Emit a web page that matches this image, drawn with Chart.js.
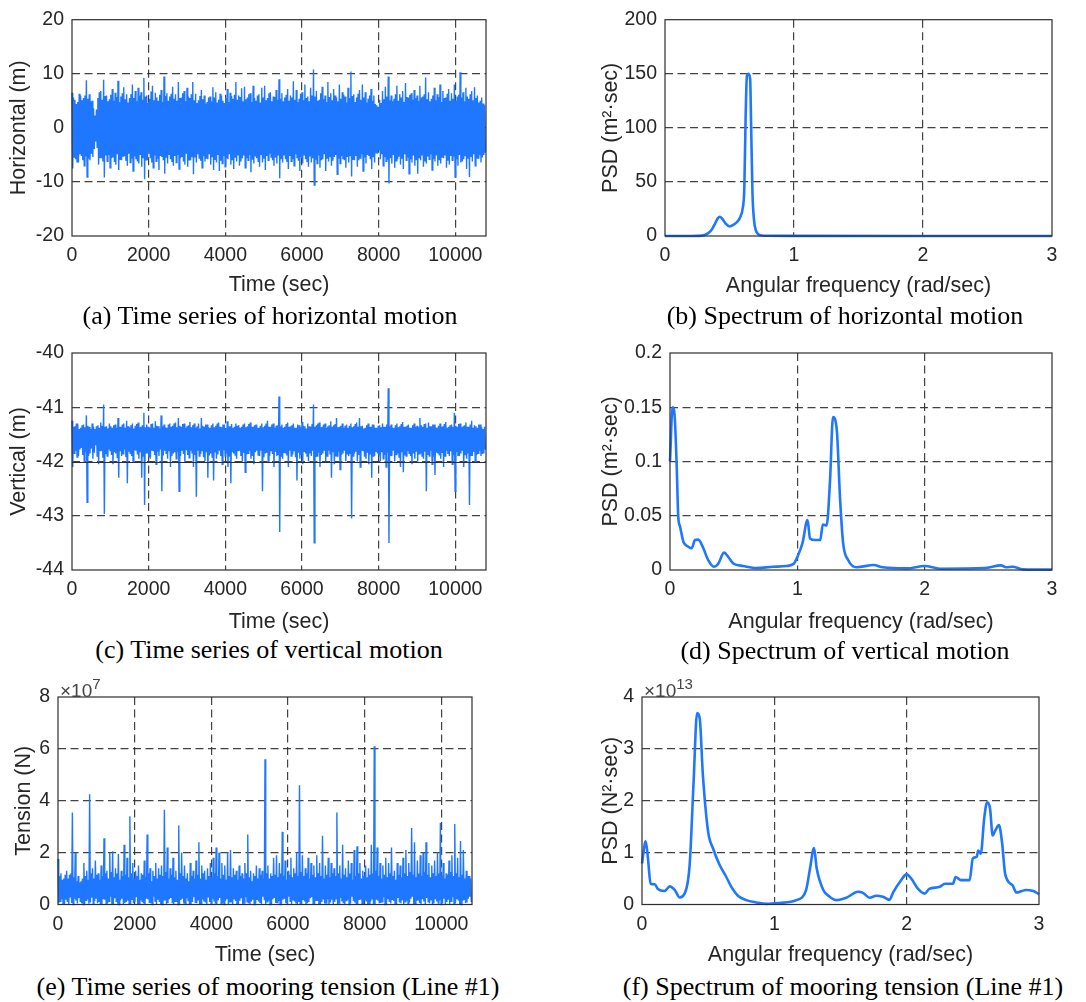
<!DOCTYPE html>
<html>
<head>
<meta charset="utf-8">
<script src="https://cdn.jsdelivr.net/npm/chart.js@4.4.0/dist/chart.umd.min.js"></script>
<style>
  body { margin: 0; background: #fff; }
  #fig { position: relative; width: 1086px; height: 1002px; overflow: hidden; }
  canvas { position: absolute; }
  .cap { position: absolute; width: 600px; text-align: center; font-family: "Liberation Serif", "Times New Roman", serif;
         font-size: 26px; line-height: 30px; color: #000; white-space: nowrap; }
  .exp { position: absolute; font-family: "Liberation Sans", Arial, sans-serif; font-size: 19px; line-height: 20px; color: #444; }
  .exp sup { font-size: 15px; vertical-align: 8px; }
</style>
</head>
<body>
<div id="fig">
  <canvas id="ca" width="540" height="305" style="left:0;top:0"></canvas>
  <canvas id="cb" width="546" height="305" style="left:540px;top:0"></canvas>
  <canvas id="cc" width="540" height="305" style="left:0;top:330px"></canvas>
  <canvas id="cd" width="546" height="305" style="left:540px;top:330px"></canvas>
  <canvas id="ce" width="540" height="305" style="left:0;top:665px"></canvas>
  <canvas id="cf" width="546" height="305" style="left:540px;top:665px"></canvas>

  <div class="cap" style="left:-30px;top:301px">(a) Time series of horizontal motion</div>
  <div class="cap" style="left:545px;top:301px">(b) Spectrum of horizontal motion</div>
  <div class="cap" style="left:-31px;top:635px">(c) Time series of vertical motion</div>
  <div class="cap" style="left:545px;top:636px">(d) Spectrum of vertical motion</div>
  <div class="cap" style="left:-32px;top:972px">(e) Time series of mooring tension (Line #1)</div>
  <div class="cap" style="left:543px;top:972px">(f) Spectrum of mooring tension (Line #1)</div>

  <div class="exp" style="left:60px;top:674px">&times;10<sup>7</sup></div>
  <div class="exp" style="left:644px;top:674px">&times;10<sup>13</sup></div>
</div>
<script>
// time records: one crest and one trough per sample step (sec)
const timeStep = 37.5;
const timeTicks = [0, 2000, 4000, 6000, 8000, 10000];
const freqTicks = [0, 1, 2, 3];

// (a) horizontal motion (m)
const horizTicks = [-20, -10, 0, 10, 20];
const horizUpper = [
  6.5,5.6, 5.2,4.4, 4.8,6.3, 6.0,5.1, 5.5,6.0, 8.8,5.4, 6.2,4.9, 5.0,3.6, 2.3,3.4, 5.5,6.6, 6.8,5.2, 8.9,5.9,
  6.0,4.9, 5.3,6.1, 7.2,5.0, 6.5,5.7, 8.7,4.8, 5.8,6.4, 7.5,5.3, 6.2,4.7, 5.5,6.2, 8.0,5.5, 6.8,4.9, 7.4,6.0,
  6.6,5.2, 9.2,5.8, 6.0,4.6, 5.4,6.7, 7.8,5.1, 6.5,5.6, 5.0,6.1, 7.0,4.8, 9.5,5.9, 6.4,5.0, 5.8,6.3, 7.6,5.4,
  6.2,5.0, 8.5,5.5, 5.6,6.4, 6.8,4.9, 7.4,5.8, 5.5,6.2, 8.5,5.1, 6.3,4.6, 5.1,5.9, 7.0,5.3, 6.0,4.5, 4.8,5.6,
  5.8,4.9, 7.5,5.6, 6.6,4.7, 5.2,6.3, 6.0,5.0, 4.6,5.5, 7.2,4.8, 6.5,5.9, 5.4,6.1, 8.5,5.2, 6.0,5.7, 7.3,4.9,
  7.6,5.3, 5.6,6.2, 6.4,4.8, 7.8,5.5, 5.0,6.0, 6.2,4.7, 7.4,5.6, 7.8,5.1, 5.5,6.4, 6.6,4.9, 5.8,5.7, 7.0,5.2,
  9.0,5.4, 6.4,4.9, 5.6,6.1, 7.2,5.0, 6.0,5.6, 8.6,5.2, 7.0,4.8, 5.4,6.3, 6.6,5.1, 8.0,5.5, 5.8,4.9, 7.4,6.0,
  10.8,5.8, 6.8,5.0, 5.2,6.4, 7.6,5.3, 6.0,4.8, 8.5,5.7, 6.4,5.1, 7.2,6.0, 5.6,4.9, 8.0,5.4, 6.6,6.1, 5.8,4.7,
  7.4,5.5, 10.4,5.9, 6.2,4.8, 5.6,6.3, 7.0,5.2, 8.0,5.6, 6.6,4.7, 5.4,6.0, 7.2,5.0, 6.0,4.4, 4.2,3.9, 5.2,4.6,
  6.8,5.3, 7.6,5.8, 9.5,5.1, 6.0,4.9, 5.4,6.2, 7.8,5.0, 6.2,5.6, 6.8,4.8, 8.3,5.7, 5.6,6.1, 6.4,5.2, 7.0,5.5,
  6.0,5.0, 7.8,5.6, 5.8,6.2, 9.3,5.3, 6.6,4.9, 5.4,6.0, 7.4,5.1, 6.2,5.7, 8.0,4.8, 6.8,5.5, 5.6,6.3, 7.2,5.0,
  6.4,5.4, 8.0,5.0, 5.8,6.1, 10.3,5.6, 6.6,4.9, 7.4,5.8, 5.4,6.2, 6.8,5.1, 7.5,5.5, 6.0,4.7, 5.0,5.6, 4.5,4.2
];
const horizLower = [
  -7.5,-5.4, -5.8,-6.3, -6.4,-4.9, -5.2,-6.0, -7.0,-5.3, -9.1,-5.7, -6.0,-4.8, -5.4,-3.9, -2.5,-3.6, -6.8,-5.5, -5.6,-6.2, -9.2,-5.1,
  -6.2,-5.0, -7.4,-5.6, -5.5,-6.3, -6.8,-4.9, -7.8,-5.8, -6.0,-5.2, -5.2,-6.1, -7.0,-4.8, -6.4,-5.7, -8.0,-5.3, -5.8,-6.2, -6.6,-5.0,
  -7.2,-5.5, -9.5,-5.9, -6.0,-4.8, -5.6,-6.4, -7.4,-5.1, -6.2,-5.7, -7.8,-5.2, -5.4,-6.0, -8.5,-5.4, -6.6,-4.9, -5.8,-6.3, -7.0,-5.2,
  -6.4,-5.0, -7.6,-5.6, -5.4,-6.2, -6.8,-4.8, -7.2,-5.9, -6.0,-5.3, -8.6,-5.5, -6.4,-4.9, -5.6,-6.1, -7.4,-5.2, -6.2,-5.7, -5.8,-4.9,
  -6.8,-5.3, -7.8,-5.8, -6.4,-5.0, -8.0,-6.1, -6.6,-5.2, -7.2,-5.6, -5.8,-4.9, -6.8,-6.0, -7.6,-5.4, -6.2,-5.0, -7.0,-6.2, -5.6,-5.1,
  -7.4,-5.6, -6.0,-5.0, -8.2,-5.9, -6.6,-5.3, -5.6,-6.2, -7.2,-4.9, -6.4,-5.7, -7.8,-5.2, -6.0,-4.8, -5.4,-6.0, -7.0,-5.5, -6.6,-5.1,
  -9.3,-5.7, -6.4,-5.0, -5.8,-6.3, -7.6,-5.2, -6.2,-5.8, -7.0,-4.9, -5.6,-6.1, -8.0,-5.4, -6.6,-5.0, -5.8,-6.2, -7.2,-5.3, -6.4,-5.6,
  -10.6,-5.9, -6.6,-5.1, -7.4,-6.0, -5.8,-4.9, -8.0,-5.6, -6.2,-5.3, -7.0,-6.1, -5.4,-5.0, -8.6,-5.7, -6.6,-5.2, -5.8,-6.0, -7.4,-5.4,
  -6.4,-5.1, -9.0,-5.8, -6.0,-5.2, -7.2,-6.0, -5.6,-4.9, -8.0,-5.5, -6.6,-5.0, -5.2,-5.8, -7.6,-5.3, -6.4,-4.6, -4.8,-4.2, -5.8,-4.9,
  -7.0,-5.4, -6.2,-5.9, -10.3,-5.6, -6.6,-5.0, -7.4,-6.1, -5.8,-5.2, -6.8,-5.7, -7.6,-4.9, -6.0,-5.5, -8.5,-5.8, -6.4,-5.1, -7.0,-6.0,
  -8.5,-5.5, -6.0,-5.0, -7.2,-6.2, -6.6,-5.3, -5.8,-4.9, -7.8,-5.8, -6.2,-5.1, -7.0,-6.0, -6.6,-5.4, -5.6,-5.0, -7.4,-6.1, -6.8,-5.2,
  -6.0,-5.3, -9.1,-5.8, -7.0,-5.0, -6.4,-6.2, -5.8,-5.1, -7.6,-5.6, -9.1,-5.4, -6.2,-4.9, -7.0,-5.7, -5.6,-5.0, -6.4,-5.5, -5.0,-4.6
];

// (c) vertical motion (m)
const vertTicks = [-44, -43, -42, -41, -40];
const vertUpper = [
  -41.25,-41.36, -41.35,-41.3, -41.3,-41.4, -41.38,-41.33, -41.32,-41.37, -41.15,-41.34, -41.36,-41.4, -41.3,-41.36, -41.4,-41.35, -41.33,-41.38, -41.28,-41.34, -40.95,-41.36,
  -41.35,-41.39, -41.3,-41.35, -41.38,-41.33, -41.32,-41.38, -41.2,-41.36, -41.36,-41.32, -41.3,-41.38, -41.25,-41.35, -41.37,-41.33, -41.3,-41.39, -41.34,-41.31, -41.28,-41.37,
  -41.36,-41.33, -41.1,-41.37, -41.32,-41.36, -41.38,-41.31, -41.3,-41.38, -41.26,-41.34, -41.35,-41.39, -41.15,-41.35, -41.32,-41.37, -41.38,-41.32, -41.3,-41.36, -41.34,-41.3,
  -41.28,-41.37, -41.2,-41.34, -41.36,-41.31, -41.3,-41.38, -41.35,-41.33, -41.27,-41.37, -41.33,-41.3, -41.38,-41.35, -41.3,-41.39, -41.2,-41.34, -41.36,-41.32, -41.32,-41.37,
  -41.38,-41.33, -41.3,-41.37, -41.34,-41.3, -41.28,-41.36, -41.37,-41.32, -41.32,-41.39, -41.26,-41.35, -41.35,-41.31, -41.38,-41.36, -41.3,-41.34, -41.33,-41.38, -41.36,-41.32,
  -41.3,-41.37, -41.35,-41.31, -41.28,-41.36, -41.36,-41.33, -41.32,-41.38, -41.38,-41.34, -41.3,-41.37, -41.34,-41.3, -41.25,-41.36, -41.36,-41.32, -41.3,-41.38, -41.34,-41.33,
  -40.8,-41.35, -41.32,-41.38, -41.36,-41.31, -41.28,-41.36, -41.35,-41.33, -41.3,-41.38, -41.38,-41.32, -41.33,-41.37, -41.27,-41.34, -41.35,-41.39, -41.3,-41.35, -41.36,-41.31,
  -40.95,-41.36, -41.33,-41.3, -41.28,-41.37, -41.36,-41.32, -41.3,-41.38, -41.35,-41.33, -41.26,-41.36, -41.33,-41.31, -41.2,-41.37, -41.36,-41.34, -41.3,-41.38, -41.34,-41.32,
  -41.38,-41.34, -41.3,-41.37, -41.35,-41.31, -41.28,-41.36, -41.2,-41.35, -41.34,-41.39, -41.38,-41.33, -41.3,-41.36, -41.36,-41.32, -41.32,-41.38, -41.38,-41.34, -41.33,-41.37,
  -41.3,-41.36, -41.36,-41.32, -40.65,-41.35, -41.32,-41.38, -41.38,-41.33, -41.3,-41.37, -41.35,-41.31, -41.27,-41.36, -41.36,-41.34, -41.32,-41.38, -41.38,-41.33, -41.3,-41.36,
  -41.34,-41.37, -41.2,-41.33, -41.36,-41.31, -41.3,-41.38, -41.28,-41.35, -41.35,-41.32, -41.32,-41.37, -41.38,-41.34, -41.3,-41.36, -41.35,-41.31, -41.27,-41.38, -41.36,-41.33,
  -41.32,-41.36, -41.1,-41.34, -41.36,-41.31, -41.3,-41.37, -41.35,-41.33, -41.28,-41.36, -41.36,-41.32, -41.25,-41.38, -41.33,-41.35, -41.38,-41.32, -41.32,-41.37, -41.4,-41.36
];
const vertLower = [
  -42.1,-41.85, -41.8,-41.92, -41.9,-41.78, -41.75,-41.88, -42.0,-41.82, -42.75,-41.9, -41.85,-41.76, -41.95,-41.84, -41.7,-41.9, -42.05,-41.8, -41.8,-41.93, -42.97,-41.86,
  -41.9,-41.78, -41.8,-41.88, -42.05,-41.83, -41.85,-41.94, -42.3,-41.8, -41.9,-41.86, -41.78,-41.92, -42.4,-41.82, -41.85,-41.9, -42.0,-41.79, -41.8,-41.87, -41.95,-41.83,
  -42.3,-41.9, -42.8,-41.84, -41.85,-41.92, -41.95,-41.8, -41.8,-41.88, -42.05,-41.82, -41.9,-41.78, -42.55,-41.89, -41.8,-41.85, -41.95,-41.8, -42.1,-41.9, -41.85,-41.83,
  -41.95,-41.82, -42.55,-41.9, -41.8,-41.86, -42.0,-41.79, -41.88,-41.93, -41.8,-41.84, -42.1,-41.88, -42.65,-41.8, -41.9,-41.86, -41.8,-41.92, -42.0,-41.83, -42.3,-41.89,
  -41.85,-41.92, -42.35,-41.82, -41.95,-41.87, -41.8,-41.9, -42.05,-41.79, -41.9,-41.85, -42.1,-41.91, -42.4,-41.83, -41.85,-41.88, -41.95,-41.8, -41.8,-41.9, -42.0,-41.84,
  -42.2,-41.87, -41.85,-41.8, -41.95,-41.9, -42.05,-41.83, -41.8,-41.88, -41.9,-41.79, -42.55,-41.92, -41.85,-41.84, -42.0,-41.9, -41.8,-41.86, -42.1,-41.82, -41.9,-41.88,
  -43.3,-41.9, -41.95,-41.83, -41.85,-41.89, -42.1,-41.8, -41.9,-41.87, -41.8,-41.92, -42.35,-41.84, -41.95,-41.88, -42.05,-41.81, -41.85,-41.9, -42.0,-41.85, -41.9,-41.8,
  -43.5,-41.92, -41.9,-41.84, -42.1,-41.88, -41.85,-41.8, -42.0,-41.9, -41.8,-41.86, -42.3,-41.83, -42.05,-41.91, -41.9,-41.82, -42.15,-41.88, -41.85,-41.8, -42.0,-41.87,
  -41.9,-41.85, -43.05,-41.9, -41.85,-41.82, -42.0,-41.88, -42.1,-41.8, -41.8,-41.91, -41.95,-41.84, -42.05,-41.87, -42.3,-41.9, -41.9,-41.81, -41.85,-41.89, -42.0,-41.83,
  -41.95,-41.88, -42.1,-41.84, -43.5,-41.9, -41.9,-41.8, -42.0,-41.87, -41.85,-41.92, -42.1,-41.83, -42.2,-41.89, -41.9,-41.81, -41.85,-41.9, -42.05,-41.85, -41.95,-41.82,
  -42.0,-41.86, -41.85,-41.9, -41.95,-41.82, -42.55,-41.88, -41.9,-41.8, -42.05,-41.91, -42.25,-41.84, -41.85,-41.89, -41.95,-41.83, -42.1,-41.9, -41.8,-41.86, -41.9,-41.81,
  -42.05,-41.88, -42.55,-41.83, -41.9,-41.9, -41.85,-41.8, -42.1,-41.87, -41.95,-41.84, -42.8,-41.9, -41.9,-41.82, -42.0,-41.88, -41.85,-41.8, -41.9,-41.86, -41.85,-41.78
];

// (e) mooring tension, in units of 1e7 N
const tensionTicks = [0, 2, 4, 6, 8];
const tensionUpper = [
  1.75,1.1, 1.2,0.95, 1.0,1.15, 1.3,1.0, 1.15,1.2, 3.55,1.05, 2.0,0.9, 1.1,0.85, 0.9,1.0, 1.6,1.1, 1.3,0.95, 4.25,1.2,
  1.4,1.0, 1.7,1.15, 1.2,0.95, 1.5,1.1, 2.55,1.2, 1.3,1.0, 2.0,1.25, 2.05,1.05, 1.4,1.2, 1.95,0.95, 1.3,1.1, 2.3,1.15,
  1.8,1.05, 3.4,1.2, 1.6,1.0, 1.3,1.1, 1.5,0.95, 1.2,1.15, 1.7,1.05, 2.7,1.2, 1.4,0.9, 1.3,1.1, 1.6,1.0, 1.4,1.15,
  1.5,1.1, 3.65,1.25, 2.2,1.0, 1.4,1.15, 1.8,1.05, 1.3,0.95, 3.05,1.2, 2.0,1.1, 1.5,1.0, 1.2,0.9, 1.6,1.1, 1.3,1.0,
  1.7,1.15, 2.4,1.0, 1.5,1.2, 1.3,0.95, 1.4,1.1, 1.6,1.05, 1.8,1.2, 2.2,1.1, 2.0,1.0, 1.6,1.15, 1.5,0.95, 2.0,1.1,
  2.1,1.05, 1.4,1.15, 1.3,0.95, 1.5,1.1, 1.2,1.0, 1.6,1.2, 2.7,1.05, 1.3,0.9, 1.2,1.1, 1.5,1.0, 1.4,1.15, 1.3,1.0,
  5.6,1.2, 1.5,1.0, 1.2,1.1, 1.8,1.15, 1.9,1.05, 1.6,1.2, 2.8,1.1, 1.7,0.95, 1.3,1.15, 1.8,1.05, 1.4,1.2, 2.0,1.1,
  4.6,1.25, 1.9,1.1, 1.4,1.2, 1.8,1.0, 1.6,1.15, 1.5,1.05, 1.9,1.2, 1.6,1.1, 2.65,1.0, 1.5,1.15, 1.8,1.05, 1.6,1.2,
  1.4,1.1, 3.55,1.2, 1.5,1.0, 2.3,1.15, 1.4,1.05, 1.7,1.2, 1.6,0.95, 2.1,1.1, 2.25,1.2, 1.6,1.0, 1.3,1.1, 1.5,1.05,
  1.4,1.15, 2.3,1.2, 6.1,1.3, 2.2,1.1, 1.6,1.0, 1.5,1.15, 1.8,1.05, 1.6,1.2, 2.2,1.1, 1.3,0.95, 1.6,1.15, 1.5,1.05,
  1.8,1.2, 2.1,1.1, 1.6,1.25, 2.95,1.15, 2.4,1.05, 1.7,1.2, 1.9,1.1, 2.0,1.25, 2.4,1.15, 1.6,1.05, 1.5,1.2, 1.7,1.1,
  2.0,1.2, 3.15,1.1, 1.6,1.0, 1.2,1.15, 1.7,1.25, 1.9,1.1, 3.1,1.2, 1.8,1.05, 2.45,1.15, 2.1,1.0, 1.3,1.1, 1.1,1.0
];
const tensionLower = [
  0.05,0.12, 0.2,0.03, 0.02,0.18, 0.1,0.0, 0.3,0.06, 0.0,0.22, 0.15,0.04, 0.25,0.1, 0.05,0.0, 0.0,0.16, 0.2,0.03, 0.08,0.26,
  0.02,0.14, 0.25,0.05, 0.1,0.0, 0.0,0.2, 0.18,0.04, 0.05,0.12, 0.3,0.0, 0.02,0.24, 0.12,0.03, 0.0,0.16, 0.22,0.02, 0.06,0.1,
  0.15,0.03, 0.0,0.2, 0.05,0.1, 0.28,0.0, 0.02,0.16, 0.12,0.04, 0.0,0.22, 0.2,0.06, 0.05,0.0, 0.3,0.12, 0.02,0.18, 0.1,0.02,
  0.0,0.14, 0.18,0.02, 0.06,0.2, 0.25,0.05, 0.02,0.12, 0.1,0.0, 0.0,0.17, 0.22,0.04, 0.05,0.24, 0.15,0.0, 0.02,0.1, 0.28,0.06,
  0.05,0.18, 0.0,0.04, 0.2,0.12, 0.08,0.0, 0.3,0.1, 0.02,0.22, 0.12,0.03, 0.0,0.16, 0.25,0.05, 0.05,0.0, 0.15,0.2, 0.0,0.08,
  0.1,0.02, 0.22,0.14, 0.02,0.0, 0.15,0.24, 0.0,0.06, 0.28,0.1, 0.05,0.0, 0.12,0.18, 0.0,0.04, 0.2,0.12, 0.06,0.0, 0.3,0.16,
  0.02,0.1, 0.15,0.0, 0.0,0.2, 0.25,0.06, 0.08,0.14, 0.0,0.03, 0.18,0.22, 0.05,0.0, 0.3,0.12, 0.02,0.18, 0.12,0.04, 0.0,0.1,
  0.05,0.0, 0.2,0.12, 0.0,0.05, 0.1,0.24, 0.28,0.02, 0.02,0.16, 0.15,0.0, 0.0,0.1, 0.22,0.04, 0.06,0.2, 0.0,0.08, 0.18,0.0,
  0.1,0.22, 0.0,0.06, 0.25,0.12, 0.05,0.0, 0.15,0.18, 0.0,0.04, 0.3,0.14, 0.08,0.0, 0.02,0.2, 0.2,0.05, 0.0,0.16, 0.12,0.02,
  0.04,0.12, 0.22,0.0, 0.0,0.18, 0.15,0.05, 0.06,0.1, 0.28,0.0, 0.0,0.2, 0.1,0.04, 0.2,0.14, 0.02,0.0, 0.25,0.08, 0.05,0.16,
  0.0,0.1, 0.15,0.03, 0.08,0.22, 0.3,0.0, 0.02,0.14, 0.18,0.06, 0.0,0.2, 0.12,0.0, 0.25,0.1, 0.05,0.18, 0.0,0.04, 0.2,0.12,
  0.06,0.16, 0.0,0.05, 0.22,0.0, 0.1,0.18, 0.02,0.12, 0.28,0.03, 0.05,0.2, 0.15,0.0, 0.0,0.14, 0.2,0.06, 0.08,0.22, 0.3,0.1
];

// (b) spectrum of horizontal motion
const psdBTicks = [0, 50, 100, 150, 200];
const freqB = [0, 0.2, 0.25, 0.3, 0.33, 0.36, 0.39, 0.41, 0.425, 0.44, 0.47, 0.5, 0.53, 0.555, 0.575, 0.59,
  0.6, 0.615, 0.625, 0.635, 0.648, 0.66, 0.668, 0.678, 0.69, 0.705, 0.72, 0.75, 0.8, 1, 2, 3];
const psdB = [0, 0, 0.1, 0.7, 2.2, 5.5, 12, 16.5, 17.8, 16.5, 11.5, 8.8, 10.2, 12.6, 15.5, 19.5,
  24, 45, 110, 148, 150, 145, 100, 40, 15, 5, 2, 0.5, 0.2, 0.1, 0.05, 0.05];

// (d) spectrum of vertical motion
const psdDTicks = [0, 0.05, 0.1, 0.15, 0.2];
const freqD = [0, 0.02, 0.037, 0.052, 0.065, 0.079, 0.105, 0.144, 0.17, 0.196, 0.222, 0.262, 0.3, 0.345,
  0.38, 0.424, 0.458, 0.497, 0.576, 0.68, 0.81, 0.916, 0.974, 1.0, 1.04, 1.08, 1.1, 1.14, 1.18, 1.2, 1.23,
  1.257, 1.28, 1.31, 1.335, 1.36, 1.4, 1.466, 1.6, 1.67, 1.86, 2.0, 2.12, 2.47, 2.6, 2.64, 2.69, 2.77, 3.0];
const psdD = [0.1, 0.15, 0.141, 0.098, 0.049, 0.04, 0.026, 0.0215, 0.02, 0.0276, 0.028, 0.02, 0.009, 0.003,
  0.006, 0.016, 0.012, 0.006, 0.0037, 0.0018, 0.003, 0.0037, 0.006, 0.012, 0.0245, 0.046, 0.029, 0.0276,
  0.0276, 0.042, 0.041, 0.083, 0.141, 0.129, 0.067, 0.0245, 0.009, 0.0025, 0.0046, 0.0025, 0.0015, 0.0037,
  0.0012, 0.0018, 0.0043, 0.0025, 0.003, 0.0006, 0.0003];

// (f) spectrum of mooring tension, in units of 1e13
const psdFTicks = [0, 1, 2, 3, 4];
const freqF = [0, 0.028, 0.045, 0.065, 0.096, 0.12, 0.17, 0.21, 0.247, 0.285, 0.322, 0.36, 0.39, 0.416,
  0.436, 0.46, 0.5, 0.537, 0.587, 0.637, 0.675, 0.725, 0.788, 0.864, 0.94, 1.04, 1.166, 1.24, 1.27, 1.3,
  1.32, 1.37, 1.418, 1.468, 1.544, 1.632, 1.67, 1.72, 1.77, 1.82, 1.87, 1.9, 1.95, 2.0, 2.035, 2.086,
  2.136, 2.17, 2.25, 2.29, 2.35, 2.37, 2.41, 2.476, 2.5, 2.53, 2.54, 2.56, 2.586, 2.608, 2.63, 2.65,
  2.665, 2.697, 2.72, 2.745, 2.8, 2.83, 2.87, 2.9, 2.957, 3.0];
const psdF = [0.79, 1.22, 0.89, 0.4, 0.39, 0.3, 0.26, 0.35, 0.28, 0.135, 0.21, 0.76, 2.37, 3.69, 3.59,
  2.5, 1.4, 1.08, 0.76, 0.53, 0.34, 0.17, 0.084, 0.04, 0.013, 0.03, 0.084, 0.28, 0.7, 1.09, 0.7, 0.28,
  0.15, 0.084, 0.13, 0.245, 0.225, 0.13, 0.17, 0.15, 0.09, 0.245, 0.44, 0.58, 0.5, 0.3, 0.21, 0.3, 0.34,
  0.4, 0.4, 0.53, 0.47, 0.47, 0.89, 0.92, 1.04, 0.98, 1.66, 1.97, 1.85, 1.33, 1.4, 1.53, 1.21, 0.58,
  0.37, 0.23, 0.26, 0.28, 0.26, 0.2];

const blue = 'rgb(31,119,255)';
const gridGray = 'rgba(45,45,45,0.9)';
const txt = '#262626';
const sans = "'Liberation Sans', Arial, sans-serif";

// crest/trough pairs -> one continuous record
function record(upper, lower) {
  const pts = [];
  upper.forEach((u, i) => {
    pts.push({x: i * timeStep, y: u});
    pts.push({x: i * timeStep + timeStep / 2, y: lower[i]});
  });
  return pts;
}
function pairs(xs, ys) {
  return xs.map((x, i) => ({x: x, y: ys[i]}));
}

// MATLAB-like box (and any solid reference line) on top of the data
const boxPlugin = {
  id: 'box',
  afterDatasetsDraw(chart, args, opts) {
    const {ctx, chartArea: a, scales} = chart;
    ctx.save();
    ctx.strokeStyle = '#2e2e2e';
    ctx.lineWidth = 1.2;
    (opts.solidY || []).forEach(v => {
      const y = Math.round(scales.y.getPixelForValue(v)) + 0.5;
      ctx.beginPath(); ctx.moveTo(a.left, y); ctx.lineTo(a.right, y); ctx.stroke();
    });
    ctx.strokeRect(a.left, a.top, a.right - a.left, a.bottom - a.top);
    ctx.restore();
  }
};

const hideEdges = c => (c.tick && (c.tick.value === c.scale.min || c.tick.value === c.scale.max)) ? 'rgba(0,0,0,0)' : gridGray;
const fmt = v => String(+(+v).toFixed(6));
const useTicks = list => s => { s.ticks = list.map(v => ({value: v})); };

function makeChart(id, p) {
  new Chart(document.getElementById(id), {
    type: 'line',
    data: {
      datasets: [{
        data: p.data, borderColor: blue, borderWidth: p.lw, pointRadius: 0,
        tension: 0, cubicInterpolationMode: p.smooth ? 'monotone' : 'default', clip: 4
      }]
    },
    options: {
      responsive: false, animation: false, events: [],
      layout: { padding: { top: p.padTop, right: p.padRight, left: 0, bottom: 0 } },
      plugins: { legend: { display: false }, tooltip: { enabled: false }, box: { solidY: p.solidY || [] } },
      scales: {
        x: {
          type: 'linear', min: p.xTicks[0], max: p.xMax,
          afterBuildTicks: useTicks(p.xTicks),
          afterFit: s => { s.height = p.xH; },
          grid: { color: hideEdges, lineWidth: 1.2, drawTicks: false },
          border: { display: false, dash: [8, 4.5] },
          ticks: { autoSkip: false, maxRotation: 0, padding: 8,
                   color: txt, font: { family: sans, size: 19.5 }, callback: fmt },
          title: { display: true, text: p.xTitle, color: txt, font: { family: sans, size: 21.5 },
                   padding: { top: 0, bottom: p.xTitlePad } }
        },
        y: {
          type: 'linear', min: p.yTicks[0], max: p.yTicks[p.yTicks.length - 1],
          afterBuildTicks: useTicks(p.yTicks),
          afterFit: s => { s.width = p.yW; },
          grid: { color: hideEdges, lineWidth: 1.2, drawTicks: false },
          border: { display: false, dash: [8, 4.5] },
          ticks: { autoSkip: false, padding: 8,
                   color: txt, font: { family: sans, size: 19.5 }, callback: fmt },
          title: { display: true, text: p.yTitle, color: txt, font: { family: sans, size: 21.5 },
                   padding: { top: p.yTitlePad, bottom: 0 } }
        }
      }
    },
    plugins: [boxPlugin]
  });
}

makeChart('ca', { data: record(horizUpper, horizLower), lw: 1.4, xTicks: timeTicks, xMax: 10800,
  yTicks: horizTicks, xTitle: 'Time (sec)', yTitle: 'Horizontal (m)',
  padTop: 16, padRight: 54, xH: 69, yW: 72, xTitlePad: 7, yTitlePad: 6 });
makeChart('cb', { data: pairs(freqB, psdB), lw: 2.6, smooth: true, xTicks: freqTicks, xMax: 3,
  yTicks: psdBTicks, xTitle: 'Angular frequency (rad/sec)', yTitle: 'PSD (m\u00b2\u00b7sec)',
  padTop: 16, padRight: 34, xH: 69, yW: 125, xTitlePad: 6.5, yTitlePad: 58 });
makeChart('cc', { data: record(vertUpper, vertLower), lw: 1.4, xTicks: timeTicks, xMax: 10800,
  yTicks: vertTicks, xTitle: 'Time (sec)', yTitle: 'Vertical (m)', solidY: [-42],
  padTop: 23, padRight: 54, xH: 65, yW: 72, xTitlePad: 0.5, yTitlePad: 6 });
makeChart('cd', { data: pairs(freqD, psdD), lw: 2.6, smooth: true, xTicks: freqTicks, xMax: 3,
  yTicks: psdDTicks, xTitle: 'Angular frequency (rad/sec)', yTitle: 'PSD (m\u00b2\u00b7sec)',
  padTop: 23, padRight: 34, xH: 65, yW: 130, xTitlePad: 0.5, yTitlePad: 58 });
makeChart('ce', { data: record(tensionUpper, tensionLower), lw: 1.4, xTicks: timeTicks, xMax: 10800,
  yTicks: tensionTicks, xTitle: 'Time (sec)', yTitle: 'Tension (N)',
  padTop: 32, padRight: 68, xH: 65.5, yW: 58, xTitlePad: 1.8, yTitlePad: 11 });
makeChart('cf', { data: pairs(freqF, psdF), lw: 2.6, smooth: true, xTicks: freqTicks, xMax: 3,
  yTicks: psdFTicks, xTitle: 'Angular frequency (rad/sec)', yTitle: 'PSD (N\u00b2\u00b7sec)',
  padTop: 32, padRight: 47, xH: 65.5, yW: 102, xTitlePad: 1.8, yTitlePad: 58 });
</script>
</body>
</html>
